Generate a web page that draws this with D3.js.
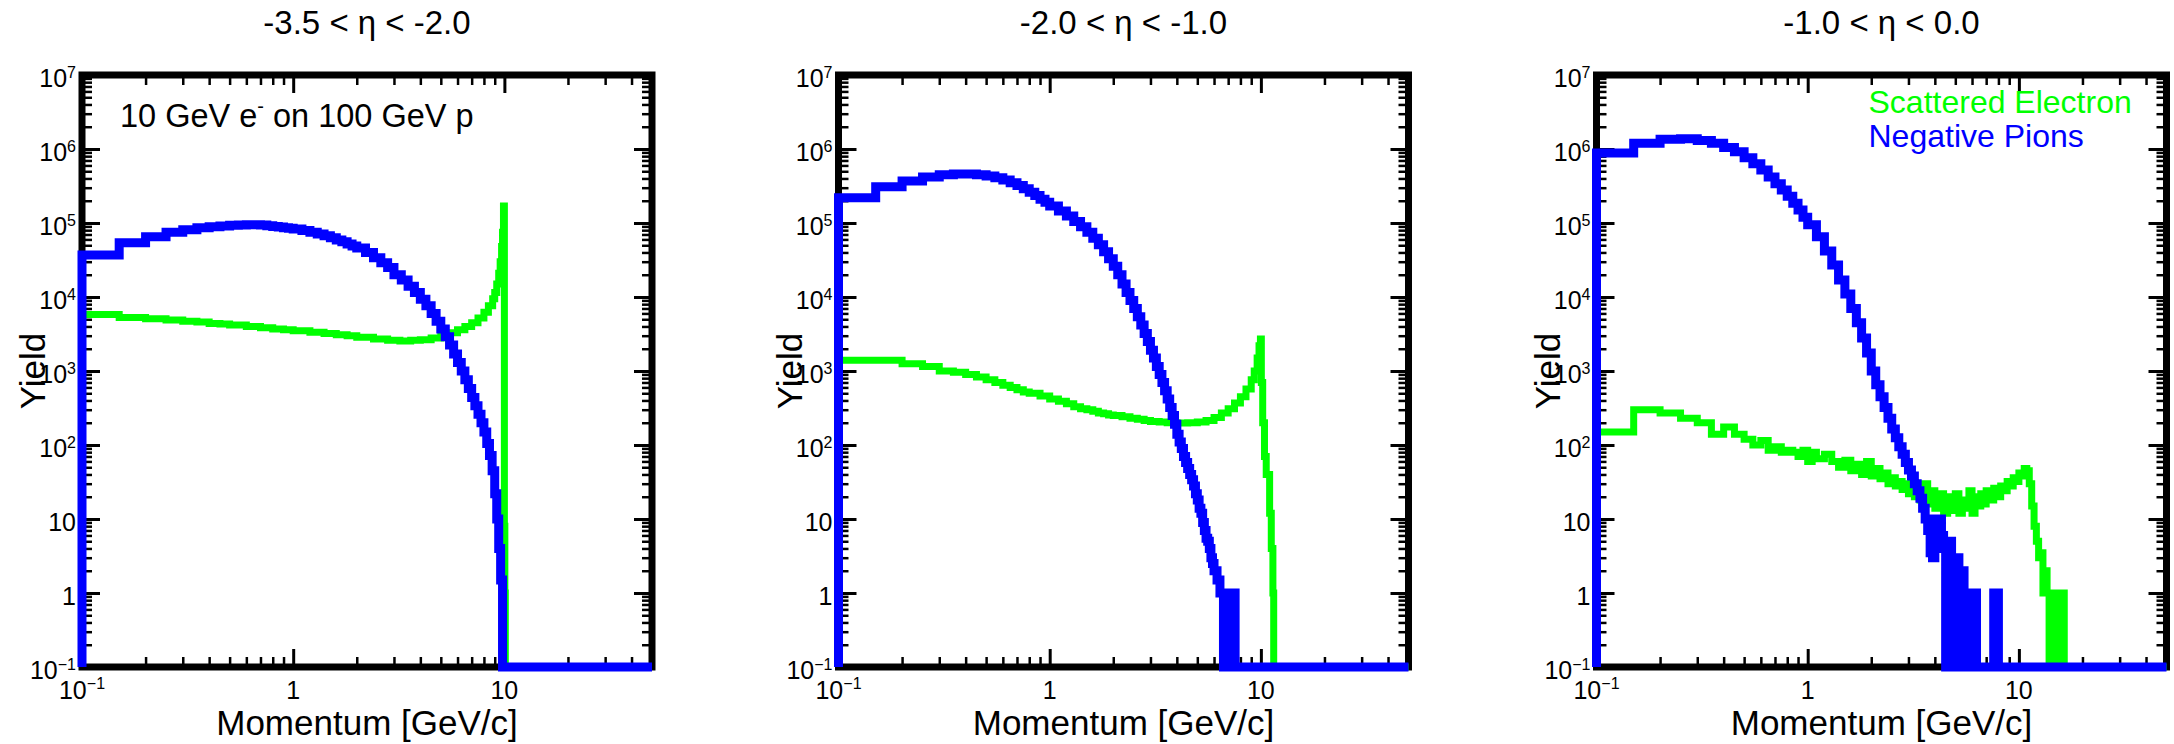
<!DOCTYPE html>
<html>
<head>
<meta charset="utf-8">
<script src="https://cdn.jsdelivr.net/npm/d3@7"></script>
<style>
    body { margin: 0; background: #fff; }
    text { font-family: "Liberation Sans", Arial, sans-serif; fill: #000; }
</style>
</head>
<body>
<div id="chart"></div>
<script>
// ---- data ----
const etaTitles = ["-3.5 < η < -2.0", "-2.0 < η < -1.0", "-1.0 < η < 0.0"];
const seriesNames = ["Scattered Electron", "Negative Pions"];
const seriesColours = ["#00ff00", "#0000ff"];
const beamNote = ["10 GeV e", "-", " on 100 GeV p"];
const xTickLabels = [[0.1, "10", "\u22121"], [1, "1", ""], [10, "10", ""]];
const yTickLabels = [[0.1, "10", "\u22121"], [1, "1", ""], [10, "10", ""], [1e2, "10", "2"], [1e3, "10", "3"],
                     [1e4, "10", "4"], [1e5, "10", "5"], [1e6, "10", "6"], [1e7, "10", "7"]];
const momentumRange = [0.1, 50];
const yieldRange = [0.1, 1e7];

// histograms: [bin low edge in GeV/c, yield]; last bin runs to the end of the axis
const electronsFar = [
    [0.10, 5.8e3], [0.15, 5.3e3], [0.20, 5.1e3], [0.25, 4.9e3], [0.30, 4.7e3], [0.35, 4.6e3], [0.40, 4.4e3],
    [0.45, 4.3e3], [0.50, 4.2e3], [0.60, 4.0e3], [0.70, 3.85e3], [0.80, 3.7e3], [0.90, 3.6e3], [1.0, 3.5e3],
    [1.2, 3.35e3], [1.4, 3.2e3], [1.6, 3.1e3], [1.8, 3.0e3], [2.0, 2.85e3], [2.4, 2.7e3], [2.8, 2.6e3],
    [3.2, 2.55e3], [3.6, 2.6e3], [4.0, 2.65e3], [4.5, 2.8e3], [5.0, 3.0e3], [5.5, 3.3e3], [6.0, 3.6e3],
    [6.5, 4.0e3], [7.0, 4.5e3], [7.5, 5.2e3], [8.0, 6.2e3], [8.4, 7.6e3], [8.8, 9.5e3], [9.0, 1.15e4],
    [9.2, 1.5e4], [9.4, 2.1e4], [9.55, 3.0e4], [9.7, 4.8e4], [9.8, 7.5e4], [9.9, 1.7e5], [10.0, 8],
    [10.05, 1], [10.1, 0]
];
const pionsFar = [
    [0.10, 3.7e4], [0.15, 5.4e4], [0.20, 6.5e4], [0.25, 7.5e4], [0.30, 8.1e4], [0.35, 8.6e4], [0.40, 8.9e4],
    [0.45, 9.1e4], [0.50, 9.3e4], [0.55, 9.4e4], [0.60, 9.5e4], [0.65, 9.5e4], [0.70, 9.4e4], [0.75, 9.2e4],
    [0.80, 9.0e4], [0.85, 8.8e4], [0.90, 8.6e4], [0.95, 8.5e4], [1.0, 8.3e4], [1.1, 7.9e4], [1.2, 7.5e4],
    [1.3, 7.1e4], [1.4, 6.7e4], [1.5, 6.3e4], [1.6, 5.9e4], [1.7, 5.6e4], [1.8, 5.2e4], [1.9, 4.9e4],
    [2.0, 4.6e4], [2.2, 4.0e4], [2.4, 3.4e4], [2.6, 2.9e4], [2.8, 2.5e4], [3.0, 2.0e4], [3.25, 1.7e4],
    [3.5, 1.4e4], [3.75, 1.15e4], [4.0, 9.3e3], [4.25, 7.6e3], [4.5, 6.0e3], [4.75, 4.7e3], [5.0, 3.7e3],
    [5.25, 2.9e3], [5.5, 2.25e3], [5.75, 1.7e3], [6.0, 1.3e3], [6.25, 1.0e3], [6.5, 760], [6.75, 580],
    [7.0, 440], [7.25, 340], [7.5, 260], [7.75, 200], [8.0, 150], [8.25, 105], [8.5, 72], [8.75, 45],
    [9.0, 22], [9.2, 10], [9.4, 4], [9.6, 1.5], [9.8, 0]
];
const electronsMid = [
    [0.10, 1.4e3], [0.15, 1.4e3], [0.20, 1.25e3], [0.25, 1.15e3], [0.30, 1.0e3], [0.35, 960], [0.40, 900],
    [0.45, 830], [0.50, 760], [0.55, 700], [0.60, 640], [0.65, 600], [0.70, 560], [0.75, 520], [0.80, 500],
    [0.90, 460], [1.0, 420], [1.1, 390], [1.2, 360], [1.3, 330], [1.4, 310], [1.5, 300], [1.6, 285],
    [1.7, 270], [1.8, 265], [1.9, 255], [2.0, 250], [2.2, 240], [2.4, 230], [2.6, 222], [2.8, 215],
    [3.0, 208], [3.3, 204], [3.6, 200], [4.0, 198], [4.5, 200], [5.0, 205], [5.5, 215], [6.0, 235],
    [6.5, 270], [7.0, 310], [7.5, 370], [8.0, 450], [8.5, 570], [9.0, 760], [9.3, 1.0e3], [9.6, 1.5e3],
    [9.8, 2.2e3], [9.95, 2.7e3], [10.05, 700], [10.2, 200], [10.4, 70], [10.6, 40], [11.0, 12],
    [11.2, 4], [11.4, 1], [11.5, 0]
];
const pionsMid = [
    [0.10, 2.2e5], [0.15, 3.1e5], [0.20, 3.7e5], [0.25, 4.2e5], [0.30, 4.5e5], [0.35, 4.6e5], [0.40, 4.6e5],
    [0.45, 4.5e5], [0.50, 4.3e5], [0.55, 4.1e5], [0.60, 3.8e5], [0.65, 3.5e5], [0.70, 3.2e5], [0.75, 2.9e5],
    [0.80, 2.6e5], [0.85, 2.35e5], [0.90, 2.1e5], [0.95, 1.9e5], [1.0, 1.7e5], [1.1, 1.45e5], [1.2, 1.24e5],
    [1.3, 1.05e5], [1.4, 8.9e4], [1.5, 7.5e4], [1.6, 6.2e4], [1.7, 5.1e4], [1.8, 4.1e4], [1.9, 3.3e4],
    [2.0, 2.6e4], [2.1, 2.0e4], [2.2, 1.5e4], [2.3, 1.15e4], [2.4, 9.0e3], [2.5, 7.0e3], [2.6, 5.4e3],
    [2.7, 4.2e3], [2.8, 3.2e3], [2.9, 2.5e3], [3.0, 1.9e3], [3.1, 1.5e3], [3.2, 1.15e3], [3.3, 900],
    [3.4, 700], [3.5, 540], [3.6, 420], [3.7, 320], [3.8, 250], [3.9, 190], [4.0, 140], [4.1, 110],
    [4.2, 90], [4.3, 70], [4.4, 58], [4.5, 48], [4.6, 40], [4.7, 34], [4.8, 28], [4.9, 22], [5.0, 18],
    [5.1, 14], [5.2, 12], [5.3, 9], [5.4, 7], [5.5, 5.5], [5.6, 5], [5.7, 4], [5.8, 3], [5.9, 2.5],
    [6.0, 2], [6.2, 1.5], [6.4, 1], [6.65, 0], [6.7, 1], [6.75, 0], [6.8, 1], [6.85, 0], [6.9, 1],
    [6.95, 0], [7.0, 1], [7.05, 0], [7.1, 1], [7.15, 0], [7.2, 1], [7.25, 0], [7.3, 1], [7.35, 0],
    [7.4, 1], [7.45, 0], [7.5, 1], [7.55, 0]
];
const electronsCentral = [
    [0.10, 150], [0.15, 300], [0.20, 270], [0.25, 230], [0.30, 200], [0.35, 140], [0.40, 175], [0.45, 140],
    [0.50, 120], [0.55, 100], [0.60, 115], [0.65, 85], [0.70, 95], [0.75, 80], [0.80, 85], [0.85, 80],
    [0.90, 70], [0.95, 85], [1.0, 60], [1.05, 80], [1.1, 65], [1.2, 75], [1.3, 60], [1.4, 50], [1.5, 62],
    [1.6, 45], [1.7, 55], [1.8, 40], [1.9, 60], [2.0, 38], [2.1, 48], [2.2, 35], [2.3, 42], [2.4, 30],
    [2.5, 36], [2.6, 28], [2.7, 32], [2.8, 25], [2.9, 30], [3.0, 22], [3.1, 35], [3.2, 20], [3.3, 28],
    [3.4, 18], [3.5, 30], [3.7, 16], [3.8, 24], [4.0, 14], [4.2, 22], [4.4, 12], [4.6, 20], [4.8, 13],
    [5.0, 22], [5.2, 12], [5.4, 18], [5.6, 14], [5.8, 24], [6.0, 12], [6.2, 20], [6.4, 15], [6.6, 22],
    [6.8, 16], [7.0, 24], [7.3, 18], [7.6, 26], [7.9, 20], [8.2, 28], [8.5, 24], [8.8, 32], [9.1, 28],
    [9.4, 36], [9.7, 32], [10.0, 42], [10.3, 38], [10.6, 48], [10.9, 45], [11.2, 30], [11.5, 15],
    [11.8, 8], [12.1, 5], [12.4, 3], [12.7, 3.5], [13.0, 1], [13.3, 2], [13.6, 1], [13.9, 0], [14.2, 1],
    [14.5, 0], [14.8, 1], [15.1, 0], [15.4, 1], [15.7, 0], [16.0, 1], [16.4, 0]
];
const pionsCentral = [
    [0.10, 8.8e5], [0.15, 1.2e6], [0.20, 1.35e6], [0.25, 1.38e6], [0.30, 1.3e6], [0.35, 1.2e6], [0.40, 1.05e6],
    [0.45, 9.2e5], [0.50, 7.6e5], [0.55, 6.3e5], [0.60, 5.2e5], [0.65, 4.2e5], [0.70, 3.4e5], [0.75, 2.8e5],
    [0.80, 2.3e5], [0.85, 1.85e5], [0.90, 1.5e5], [0.95, 1.2e5], [1.0, 9.5e4], [1.1, 6.5e4], [1.2, 4.2e4],
    [1.3, 2.7e4], [1.4, 1.7e4], [1.5, 1.1e4], [1.6, 7.0e3], [1.7, 4.5e3], [1.8, 2.8e3], [1.9, 1.75e3],
    [2.0, 1.0e3], [2.1, 650], [2.2, 450], [2.3, 320], [2.4, 230], [2.5, 165], [2.6, 125], [2.7, 95],
    [2.8, 75], [2.9, 58], [3.0, 46], [3.1, 38], [3.2, 30], [3.3, 24], [3.4, 19], [3.5, 14], [3.6, 10],
    [3.7, 7], [3.8, 3.5], [3.9, 3], [4.0, 10], [4.1, 9], [4.2, 10], [4.3, 6], [4.4, 4], [4.5, 0],
    [4.55, 4], [4.6, 0], [4.65, 4], [4.7, 0], [4.75, 5], [4.8, 3], [4.9, 2.5], [5.0, 0], [5.05, 1],
    [5.1, 3], [5.2, 1], [5.25, 0], [5.3, 1], [5.35, 0], [5.4, 2], [5.5, 1], [5.55, 0], [5.6, 1],
    [5.65, 0], [5.7, 1], [5.75, 0], [5.8, 1], [5.85, 0], [5.9, 1], [5.95, 0], [6.0, 1], [6.05, 0],
    [6.1, 1], [6.15, 0], [6.25, 1], [6.3, 0], [7.6, 1], [7.65, 0], [7.7, 1], [7.75, 0], [7.8, 1],
    [7.85, 0], [7.9, 1], [8.0, 0]
];

const panelData = [
    {title: etaTitles[0], electrons: electronsFar, pions: pionsFar, note: true, legend: false},
    {title: etaTitles[1], electrons: electronsMid, pions: pionsMid, note: false, legend: false},
    {title: etaTitles[2], electrons: electronsCentral, pions: pionsCentral, note: false, legend: true}
];

class YieldPanel {

    constructor(_svg, _left, _config) {
        this.svg = _svg;
        this.left = _left;
        this.config = _config;
        this.initVis();
    }

    initVis() {
        let vis = this;

        vis.top = 75;
        vis.width = 570;
        vis.height = 592;

        vis.g = vis.svg.append("g")
            .attr("transform", `translate(${vis.left}, ${vis.top})`);

        vis.x = d3.scaleLog().domain(momentumRange).range([0, vis.width]);
        vis.y = d3.scaleLog().domain(yieldRange).range([vis.height, 0]);

        // Frame
        vis.g.append("rect")
            .attr("width", vis.width)
            .attr("height", vis.height)
            .attr("fill", "none")
            .attr("stroke", "#000")
            .attr("stroke-width", 7);

        // Inward ticks on all four sides, majors at the decades
        let isDecade = v => Math.abs(Math.log10(v) - Math.round(Math.log10(v))) < 1e-9;
        let xTicks = vis.x.ticks().filter(t => t > momentumRange[0] && t < momentumRange[1]);
        let yTicks = vis.y.ticks().filter(t => t > yieldRange[0] && t < yieldRange[1]);

        let sides = [
            [d3.axisBottom(vis.x), xTicks, `translate(0, ${vis.height})`],
            [d3.axisTop(vis.x), xTicks, "translate(0, 0)"],
            [d3.axisLeft(vis.y), yTicks, "translate(0, 0)"],
            [d3.axisRight(vis.y), yTicks, `translate(${vis.width}, 0)`]
        ];
        sides.forEach(([axis, ticks, shift]) => {
            [[ticks.filter(t => !isDecade(t)), -10, 2.5], [ticks.filter(isDecade), -18, 3]].forEach(([vals, size, w]) => {
                vis.g.append("g")
                    .attr("transform", shift)
                    .call(axis.tickValues(vals).tickSize(size).tickFormat(""))
                    .call(g => g.select(".domain").remove())
                    .selectAll("line")
                    .attr("stroke", "#000")
                    .attr("stroke-width", w);
            });
        });

        // Tick labels with superscripted exponents
        vis.g.selectAll(".y-label")
            .data(yTickLabels)
            .join("text")
            .attr("class", "y-label")
            .attr("x", -6)
            .attr("y", d => vis.y(d[0]) + 12)
            .attr("text-anchor", "end")
            .attr("font-size", 25)
            .each(function (d) {
                d3.select(this).append("tspan").text(d[1]);
                if (d[2]) d3.select(this).append("tspan").attr("font-size", 16).attr("dy", -9).text(d[2]);
            });

        vis.g.selectAll(".x-label")
            .data(xTickLabels)
            .join("text")
            .attr("class", "x-label")
            .attr("x", d => vis.x(d[0]))
            .attr("y", vis.height + 32)
            .attr("text-anchor", "middle")
            .attr("font-size", 25)
            .each(function (d) {
                d3.select(this).append("tspan").text(d[1]);
                if (d[2]) d3.select(this).append("tspan").attr("font-size", 16).attr("dy", -10).text(d[2]);
            });

        // Titles
        vis.g.append("text")
            .attr("x", vis.width / 2)
            .attr("y", -41)
            .attr("text-anchor", "middle")
            .attr("font-size", 33)
            .text(vis.config.title);

        vis.g.append("text")
            .attr("x", vis.width / 2)
            .attr("y", vis.height + 68)
            .attr("text-anchor", "middle")
            .attr("font-size", 35)
            .text("Momentum [GeV/c]");

        vis.g.append("text")
            .attr("transform", `translate(-37, ${vis.height / 2}) rotate(-90)`)
            .attr("text-anchor", "middle")
            .attr("font-size", 35)
            .text("Yield");

        vis.line = d3.line()
            .x(d => vis.x(d[0]))
            .y(d => vis.y(Math.max(d[1], yieldRange[0])))
            .curve(d3.curveStepAfter);

        vis.wrangleData();
    }

    wrangleData() {
        let vis = this;

        // Outline of each histogram: up from the floor, along the bins, down at the end
        let outline = bins => [[bins[0][0], 0], ...bins, [momentumRange[1], bins[bins.length - 1][1]], [momentumRange[1], 0]];
        vis.displayData = [
            {name: seriesNames[0], colour: seriesColours[0], width: 7, points: outline(vis.config.electrons)},
            {name: seriesNames[1], colour: seriesColours[1], width: 9, points: outline(vis.config.pions)}
        ];

        vis.updateVis();
    }

    updateVis() {
        let vis = this;

        vis.g.selectAll(".hist")
            .data(vis.displayData)
            .join("path")
            .attr("class", "hist")
            .attr("d", d => vis.line(d.points))
            .attr("fill", "none")
            .attr("stroke", d => d.colour)
            .attr("stroke-width", d => d.width)
            .attr("stroke-linejoin", "miter");

        if (vis.config.note) {
            let note = vis.g.append("text")
                .attr("x", 38)
                .attr("y", 52)
                .attr("font-size", 32.5);
            note.append("tspan").text(beamNote[0]);
            note.append("tspan").attr("font-size", 20).attr("dy", -14).text(beamNote[1]);
            note.append("tspan").attr("dy", 14).text(beamNote[2]);
        }

        if (vis.config.legend) {
            vis.g.selectAll(".legend-label")
                .data(vis.displayData)
                .join("text")
                .attr("class", "legend-label")
                .attr("x", 272)
                .attr("y", (d, i) => 38 + i * 34)
                .attr("font-size", 32)
                .style("fill", d => d.colour)
                .text(d => d.name);
        }
    }
}

const svg = d3.select("#chart").append("svg")
    .attr("width", 2174)
    .attr("height", 744);

const panelLefts = [82, 838.5, 1596.5];
panelData.forEach((cfg, i) => new YieldPanel(svg, panelLefts[i], cfg));
</script>
</body>
</html>
